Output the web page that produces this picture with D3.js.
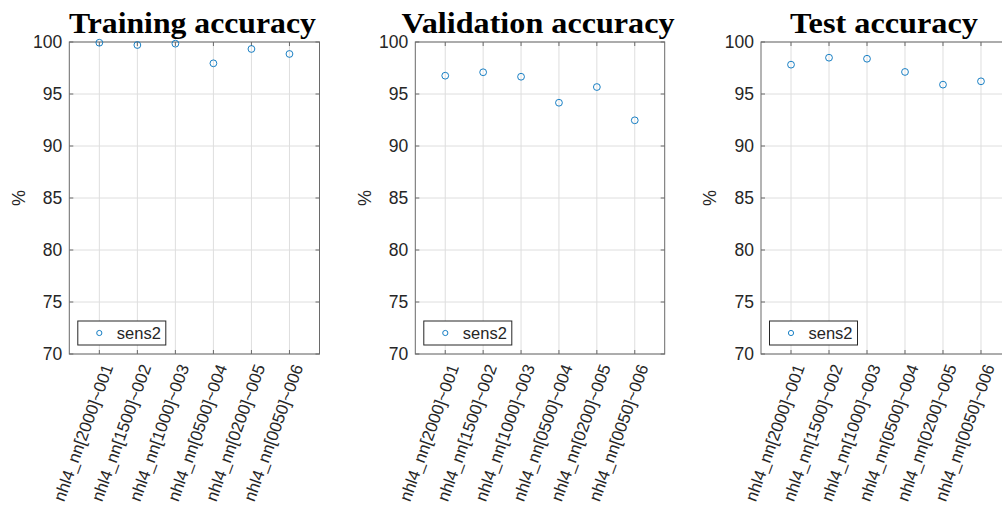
<!DOCTYPE html>
<html>
<head>
<meta charset="utf-8">
<script src="https://cdn.jsdelivr.net/npm/d3@7"></script>
<style>
  html, body { margin: 0; padding: 0; background: #fff; }
  svg { display: block; }
</style>
</head>
<body>
<svg id="chart" width="1002" height="511"></svg>
<script>
// Model runs on the x axis
const runs = [
  "nhl4_nn[2000]~001",
  "nhl4_nn[1500]~002",
  "nhl4_nn[1000]~003",
  "nhl4_nn[0500]~004",
  "nhl4_nn[0200]~005",
  "nhl4_nn[0050]~006"
];

// Accuracy (%) of series "sens2" per run
const trainingAcc   = [99.93, 99.71, 99.84, 97.95, 99.33, 98.85];
const validationAcc = [96.76, 97.09, 96.66, 94.16, 95.67, 92.47];
const testAcc       = [97.82, 98.49, 98.39, 97.12, 95.90, 96.22];

const panelTitles = ["Training accuracy", "Validation accuracy", "Test accuracy"];
const yTicks = [70, 75, 80, 85, 90, 95, 100];
const yDomain = [70, 100];
const seriesName = "sens2";

const panels = [
  { title: panelTitles[0], values: trainingAcc,   x0: 69.3,  x1: 319.5, titleW: 247 },
  { title: panelTitles[1], values: validationAcc, x0: 415.3, x1: 664.7, titleW: 273 },
  { title: panelTitles[2], values: testAcc,       x0: 761,   x1: 1011,  titleW: 188 }
];

const plotTop = 42, plotBottom = 354;
const textColor = "#262626";
const axisColor = "#6a6a6a";
const gridColor = "#dedede";
const markColor = "#0072BD";

const svg = d3.select("#chart");

panels.forEach(p => {
  const g = svg.append("g");

  const x = d3.scalePoint().domain(runs).range([p.x0, p.x1]).padding(0.79);
  const y = d3.scaleLinear().domain(yDomain).range([plotBottom, plotTop]);

  // grid
  g.append("g").selectAll("line").data(runs).join("line")
    .attr("x1", d => x(d)).attr("x2", d => x(d))
    .attr("y1", plotTop).attr("y2", plotBottom)
    .attr("stroke", gridColor).attr("stroke-width", 1);
  g.append("g").selectAll("line").data(yTicks).join("line")
    .attr("x1", p.x0).attr("x2", p.x1)
    .attr("y1", d => y(d)).attr("y2", d => y(d))
    .attr("stroke", gridColor).attr("stroke-width", 1);

  // left axis labels
  const yAxis = d3.axisLeft(y).tickValues(yTicks).tickSize(0).tickPadding(7).tickFormat(d3.format("d"));
  const ya = g.append("g").attr("transform", `translate(${p.x0},0)`).call(yAxis);
  ya.select(".domain").remove();
  ya.selectAll("text")
    .attr("fill", textColor)
    .style("font-family", "'Liberation Sans', Arial, sans-serif")
    .style("font-size", "17.5px");

  // bottom axis labels, rotated
  const xAxis = d3.axisBottom(x).tickSize(0).tickPadding(0);
  const xa = g.append("g").attr("transform", `translate(0,${plotBottom})`).call(xAxis);
  xa.select(".domain").remove();
  xa.selectAll("text")
    .attr("fill", textColor)
    .style("font-family", "'Liberation Sans', Arial, sans-serif")
    .style("font-size", "16.8px")
    .attr("text-anchor", "end")
    .attr("dy", "0.35em")
    .attr("y", 0)
    .attr("transform", "translate(8,11) rotate(-70)");

  // box
  g.append("rect")
    .attr("x", p.x0).attr("y", plotTop)
    .attr("width", p.x1 - p.x0).attr("height", plotBottom - plotTop)
    .attr("fill", "none").attr("stroke", axisColor).attr("stroke-width", 1);

  // inward tick marks on all four sides
  const tl = 4;
  runs.forEach(r => {
    g.append("line").attr("x1", x(r)).attr("x2", x(r)).attr("y1", plotBottom).attr("y2", plotBottom - tl).attr("stroke", axisColor);
    g.append("line").attr("x1", x(r)).attr("x2", x(r)).attr("y1", plotTop).attr("y2", plotTop + tl).attr("stroke", axisColor);
  });
  yTicks.forEach(t => {
    g.append("line").attr("x1", p.x0).attr("x2", p.x0 + tl).attr("y1", y(t)).attr("y2", y(t)).attr("stroke", axisColor);
    g.append("line").attr("x1", p.x1).attr("x2", p.x1 - tl).attr("y1", y(t)).attr("y2", y(t)).attr("stroke", axisColor);
  });

  // data markers
  g.append("g").selectAll("circle").data(p.values).join("circle")
    .attr("cx", (d, i) => x(runs[i]))
    .attr("cy", d => y(d))
    .attr("r", 3.4)
    .attr("fill", "none")
    .attr("stroke", markColor)
    .attr("stroke-width", 0.9);

  // y label
  g.append("text")
    .attr("transform", `translate(${p.x0 - 51},${(plotTop + plotBottom) / 2}) rotate(-90)`)
    .attr("text-anchor", "middle")
    .attr("dy", "0.35em")
    .attr("fill", textColor)
    .style("font-family", "'Liberation Sans', Arial, sans-serif")
    .style("font-size", "18px")
    .text("%");

  // title
  g.append("text")
    .attr("x", (p.x0 + p.x1) / 2 - 2)
    .attr("y", 33)
    .attr("text-anchor", "middle")
    .attr("fill", "#000")
    .attr("textLength", p.titleW)
    .attr("lengthAdjust", "spacingAndGlyphs")
    .style("font-family", "'Liberation Serif', 'DejaVu Serif', serif")
    .style("font-weight", "bold")
    .style("font-size", "29px")
    .text(p.title);

  // legend
  const lg = g.append("g").attr("transform", `translate(${p.x0 + 8.5},${321})`);
  lg.append("rect").attr("width", 88).attr("height", 24)
    .attr("fill", "#fff").attr("stroke", textColor).attr("stroke-width", 1);
  lg.append("circle").attr("cx", 21.5).attr("cy", 12).attr("r", 2.6)
    .attr("fill", "none").attr("stroke", markColor).attr("stroke-width", 0.9);
  lg.append("text").attr("x", 39).attr("y", 12).attr("dy", "0.35em")
    .attr("fill", textColor)
    .style("font-family", "'Liberation Sans', Arial, sans-serif")
    .style("font-size", "16.5px")
    .text(seriesName);
});
</script>
</body>
</html>
